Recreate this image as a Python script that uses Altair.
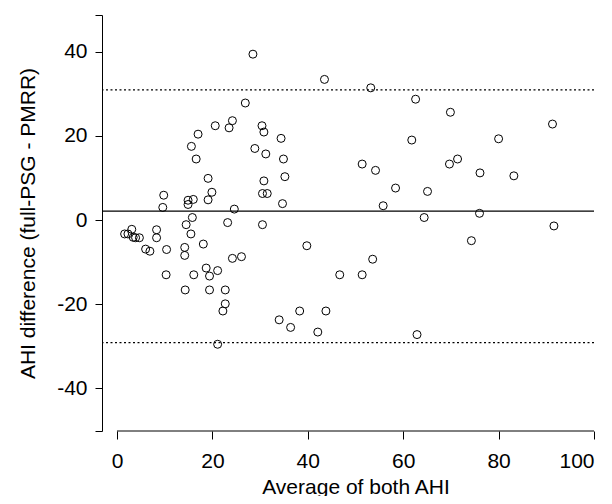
import altair as alt
import pandas as pd

# Bland-Altman data
avg = [28.5, 26.9, 24.2, 20.6, 23.5, 17.0, 30.4, 30.8, 34.4, 15.6,
       28.9, 16.6, 31.2, 34.9, 35.2, 19.1, 30.8, 19.9, 30.5, 31.5,
       9.8, 19.1, 14.9, 16.0, 14.9, 34.7, 9.6, 24.6, 23.2, 30.5,
       15.8, 14.5, 3.1, 8.3, 15.5, 1.6, 2.3, 8.3, 3.4, 3.9,
       4.7, 18.1, 6.0, 6.9, 10.4, 14.2, 14.2, 24.2, 26.1, 18.7,
       21.1, 19.4, 16.1, 10.3, 14.3, 19.4, 22.7, 22.7, 22.2, 21.1,
       34.0, 36.4, 38.3, 42.1, 43.8, 62.9, 39.8, 46.7, 51.4, 53.6,
       55.8, 58.4, 65.1, 64.4,
       43.5, 53.2, 62.6, 69.9, 61.8, 51.4, 54.2, 69.7, 71.4,
       91.3, 80.0, 76.1, 83.2, 76.0, 91.6, 74.3]
diff = [39.4, 27.8, 23.6, 22.4, 21.9, 20.4, 22.4, 20.9, 19.4, 17.5,
        17.0, 14.5, 15.7, 14.5, 10.3, 9.9, 9.3, 6.6, 6.3, 6.3,
        5.9, 4.8, 4.7, 4.9, 3.7, 3.9, 3.0, 2.6, -0.6, -1.1,
        0.6, -1.1, -2.2, -2.3, -3.3, -3.3, -3.3, -4.2, -4.1, -4.2,
        -4.2, -5.7, -6.9, -7.4, -7.0, -6.5, -8.4, -9.1, -8.7, -11.4,
        -12.0, -13.3, -13.0, -13.0, -16.6, -16.6, -16.6, -19.9, -21.6, -29.5,
        -23.7, -25.5, -21.6, -26.6, -21.6, -27.2, -6.1, -13.0, -13.0, -9.3,
        3.4, 7.6, 6.8, 0.6,
        33.4, 31.4, 28.7, 25.6, 19.0, 13.3, 11.8, 13.3, 14.5,
        22.8, 19.3, 11.2, 10.5, 1.6, -1.4, -4.9]

mean_diff = [2.1]
limits = [30.9, -29.1]

x_ticks = [0, 20, 40, 60, 80, 100]
y_ticks = [-40, -20, 0, 20, 40]
x_range = [-3.14, 100]
y_range = [-50.1, 48.7]

FONT = "Liberation Sans"
FS = 21

df = pd.DataFrame({"avg": avg, "diff": diff})
mean_df = pd.DataFrame({"diff": mean_diff})
lim_df = pd.DataFrame({"diff": limits})
xline_df = pd.DataFrame({"avg": [x_ticks[0]], "avg2": [x_ticks[-1]], "diff": [y_range[0]]})

xs = alt.Scale(domain=x_range, nice=False, zero=False)
ys = alt.Scale(domain=y_range, nice=False, zero=False)

x_axis = alt.Axis(values=x_ticks, domain=False, grid=False, tickSize=8, tickColor="black",
                  tickWidth=1, labelFont=FONT, labelFontSize=FS, labelColor="black",
                  labelPadding=11, title="Average of both AHI", titleFont=FONT,
                  titleFontSize=FS, titleFontWeight="normal", titleColor="black",
                  titlePadding=5, titleX=253.5)
y_axis = alt.Axis(values=[y_range[0]] + y_ticks + [y_range[1]], domain=True, domainColor="black",
                  domainWidth=1, grid=False, tickSize=7, tickColor="black", tickWidth=1,
                  labelFont=FONT, labelFontSize=FS, labelColor="black", labelPadding=8,
                  labelExpr="abs(datum.value) > 45 ? '' : toString(datum.value)",
                  title="AHI difference (full-PSG - PMRR)", titleFont=FONT, titleFontSize=FS,
                  titleFontWeight="normal", titleColor="black", titlePadding=18)

X = alt.X("avg:Q", scale=xs, axis=x_axis)
Y = alt.Y("diff:Q", scale=ys, axis=y_axis)

points = alt.Chart(df).mark_point(shape="circle", filled=False, color="black",
                                  size=64, strokeWidth=1, opacity=1).encode(x=X, y=Y)

mean_line = alt.Chart(mean_df).mark_rule(color="black", strokeWidth=1.2).encode(y=Y)
lim_lines = alt.Chart(lim_df).mark_rule(color="black", strokeWidth=1.2,
                                        strokeDash=[2, 2.5]).encode(y=Y)
x_line = alt.Chart(xline_df).mark_rule(color="black", strokeWidth=1).encode(
    x=X, x2="avg2:Q", y=Y)

chart = alt.layer(points, mean_line, lim_lines, x_line).properties(
    width=492, height=416,
    autosize=alt.AutoSizeParams(type="none"),
    padding={"left": 94, "top": 7, "right": 10, "bottom": 65},
).configure_view(stroke=None)

chart.save("out.html", embed_options={"renderer": "svg", "actions": False})
